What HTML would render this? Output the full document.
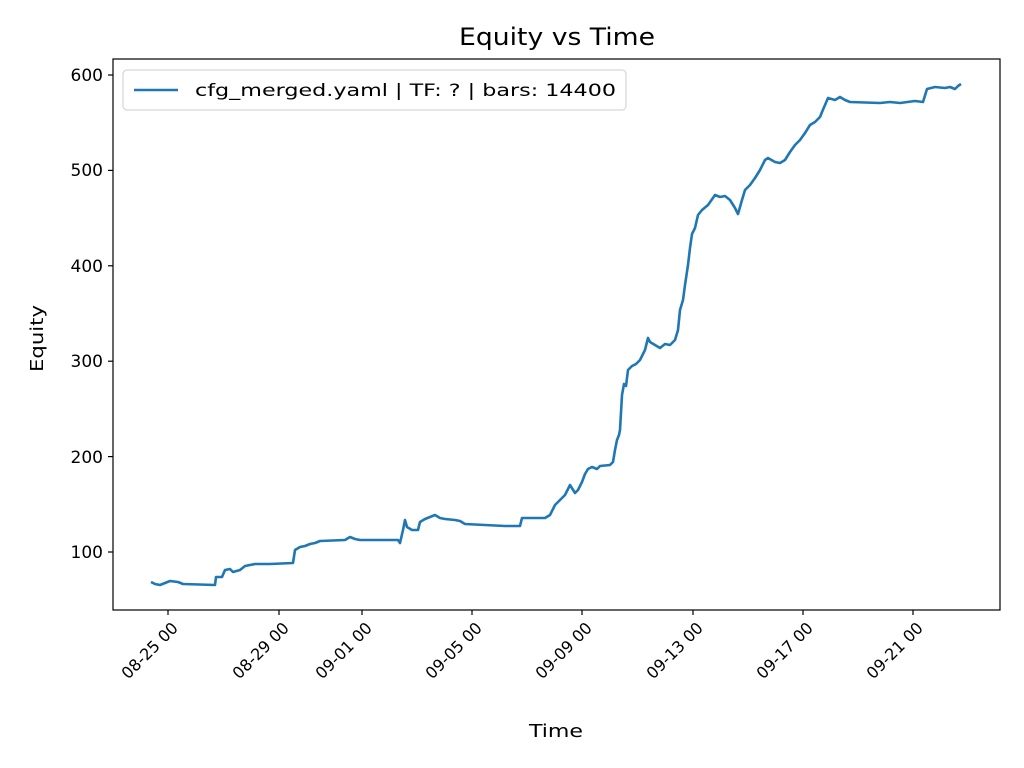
<!DOCTYPE html>
<html><head><meta charset="utf-8"><style>
html,body{margin:0;padding:0;background:#fff;}
svg{display:block;font-family:"DejaVu Sans","Liberation Sans",sans-serif;}
</style></head><body>
<svg width="1024" height="768" viewBox="0 0 1024 768" xmlns="http://www.w3.org/2000/svg">
<rect width="1024" height="768" fill="#fff"/>
<text x="459" y="45" font-size="24" textLength="196" lengthAdjust="spacingAndGlyphs" fill="#000">Equity vs Time</text>
<polyline fill="none" stroke="#1f77b4" stroke-width="2.6" stroke-linejoin="round" points="151,582 155,584 160,585 165,583 170,581 178,582 183,584 215,585 216,577 222,577 225,570 230,569 233,572 240,570 245,566 250,565 255,564 270,564 293,563 295,550 300,547 305,546 310,544 315,543 320,541 345,540 350,537 355,539 360,540 398,540 400,543 403,530 405,520 407,527 412,530 418,530 420,522 425,519 430,517 435,515 440,518 445,519 455,520 460,521 465,524 505,526 520,526 522,518 545,518 550,515 555,505 560,500 565,495 570,485 575,493 578,490 582,482 585,474 588,469 592,467 597,469 600,466 610,465 613,462 615,450 617,440 619,435 620,430 622,395 624,384 626,386 628,370 630,368 632,366 636,364 640,360 645,350 648,338 650,342 655,345 660,348 665,344 670,345 675,340 678,330 680,310 683,300 685,285 688,265 690,248 692,234 695,228 698,215 702,210 708,205 715,195 720,197 725,196 730,200 735,208 738,214 742,200 745,190 750,185 755,178 760,170 765,160 768,158 775,162 780,163 785,160 790,152 795,145 800,140 805,133 810,125 815,122 820,117 822,112 828,98 835,100 840,97 845,100 850,102 880,103 890,102 900,103 915,101 923,102 927,89 935,87 945,88 950,87 955,89 958,86 961,84"/>
<rect x="113" y="59" width="887" height="551" fill="none" stroke="#000" stroke-width="1.2"/>
<g stroke="#000" stroke-width="1.2">
<line x1="108" y1="75" x2="113" y2="75"/><line x1="108" y1="170.4" x2="113" y2="170.4"/><line x1="108" y1="265.8" x2="113" y2="265.8"/><line x1="108" y1="361.2" x2="113" y2="361.2"/><line x1="108" y1="456.6" x2="113" y2="456.6"/><line x1="108" y1="552" x2="113" y2="552"/>
<line x1="168" y1="610" x2="168" y2="615"/><line x1="279" y1="610" x2="279" y2="615"/><line x1="362" y1="610" x2="362" y2="615"/><line x1="472" y1="610" x2="472" y2="615"/><line x1="582" y1="610" x2="582" y2="615"/><line x1="693" y1="610" x2="693" y2="615"/><line x1="803" y1="610" x2="803" y2="615"/><line x1="913" y1="610" x2="913" y2="615"/>
</g>
<g font-size="17" text-anchor="end" fill="#000">
<text x="103" y="81">600</text><text x="103" y="176">500</text><text x="103" y="272">400</text><text x="103" y="367">300</text><text x="103" y="463">200</text><text x="103" y="558">100</text>
</g>
<g font-size="16" text-anchor="end" fill="#000">
<text transform="translate(179,629) rotate(-45)">08-25 00</text>
<text transform="translate(290,629) rotate(-45)">08-29 00</text>
<text transform="translate(373,629) rotate(-45)">09-01 00</text>
<text transform="translate(483,629) rotate(-45)">09-05 00</text>
<text transform="translate(593,629) rotate(-45)">09-09 00</text>
<text transform="translate(704,629) rotate(-45)">09-13 00</text>
<text transform="translate(814,629) rotate(-45)">09-17 00</text>
<text transform="translate(924,629) rotate(-45)">09-21 00</text>
</g>
<text x="529" y="737" font-size="18" textLength="54" lengthAdjust="spacingAndGlyphs">Time</text>
<text transform="translate(43,372) rotate(-90)" font-size="18" textLength="67" lengthAdjust="spacingAndGlyphs">Equity</text>
<rect x="123" y="70" width="503" height="40" rx="4" fill="#fff" fill-opacity="0.8" stroke="#ccc" stroke-width="1"/>
<line x1="134" y1="90" x2="178" y2="90" stroke="#1f77b4" stroke-width="2.6"/>
<text x="195" y="96" font-size="17" textLength="421" lengthAdjust="spacingAndGlyphs">cfg_merged.yaml | TF: ? | bars: 14400</text>
</svg>
</body></html>
